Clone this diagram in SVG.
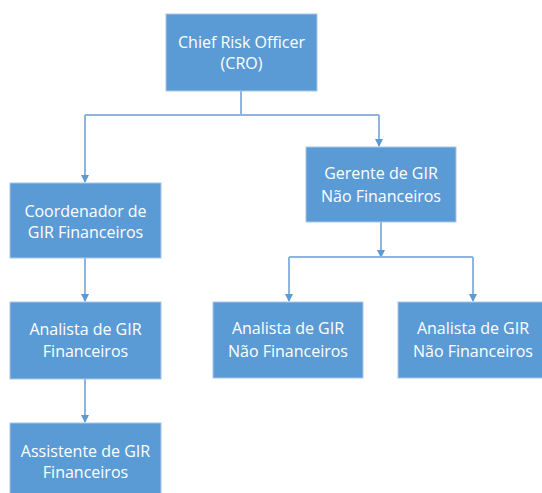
<svg xmlns="http://www.w3.org/2000/svg" width="542" height="493" viewBox="0 0 542 493">
<defs>
<marker id="ah" markerWidth="8" markerHeight="8" refX="7" refY="4" orient="auto" markerUnits="userSpaceOnUse">
<path d="M0,0 L8,4 L0,8 Z" fill="#5b9bd5"/>
</marker>
<style>
.box{fill:#5b9bd5;stroke:#a9c6e8;stroke-width:1}
.t{font-family:"Open Sans","Liberation Sans",Arial,sans-serif;font-size:16px;fill:#ffffff;text-anchor:middle}
.c{fill:none;stroke:#8fb4de;stroke-width:2}
</style>
</defs>
<rect width="542" height="493" fill="#ffffff"/>
<g id="connectors">
<path class="c" d="M241,91 V115"/>
<path class="c" d="M85,115 H379"/>
<path class="c" d="M85,115 V182" marker-end="url(#ah)"/>
<path class="c" d="M379,115 V146" marker-end="url(#ah)"/>
<path class="c" d="M381,222 V257" marker-end="url(#ah)"/>
<path class="c" d="M289,257 H473"/>
<path class="c" d="M289,257 V301" marker-end="url(#ah)"/>
<path class="c" d="M473,257 V301" marker-end="url(#ah)"/>
<path class="c" d="M85,258 V301" marker-end="url(#ah)"/>
<path class="c" d="M85,379 V422" marker-end="url(#ah)"/>
</g>
<g id="cro">
<rect class="box" x="166" y="14" width="151" height="77"/>
<text class="t" x="241.5" y="48">Chief Risk Officer</text>
<text class="t" x="241.5" y="69">(CRO)</text>
</g>
<g id="coordenador">
<rect class="box" x="10" y="183" width="151" height="75"/>
<text class="t" x="85.5" y="217">Coordenador  de</text>
<text class="t" x="85.5" y="238">GIR Financeiros</text>
</g>
<g id="analista-fin">
<rect class="box" x="10" y="302" width="151" height="77"/>
<text class="t" x="85.5" y="335">Analista de GIR</text>
<text class="t" x="85.5" y="357">Financeiros</text>
</g>
<g id="assistente">
<rect class="box" x="10" y="423" width="151" height="72"/>
<text class="t" x="85.5" y="457">Assistente de GIR</text>
<text class="t" x="85.5" y="478">Financeiros</text>
</g>
<g id="gerente">
<rect class="box" x="306" y="147" width="150" height="75"/>
<text class="t" x="381" y="179">Gerente de GIR</text>
<text class="t" x="381" y="202">Não Financeiros</text>
</g>
<g id="analista-nf1">
<rect class="box" x="213" y="302" width="150" height="76"/>
<text class="t" x="288" y="334">Analista de GIR</text>
<text class="t" x="288" y="357">Não Financeiros</text>
</g>
<g id="analista-nf2">
<rect class="box" x="398" y="302" width="150" height="76"/>
<text class="t" x="473" y="334">Analista de GIR</text>
<text class="t" x="473" y="357">Não Financeiros</text>
</g>
</svg>
